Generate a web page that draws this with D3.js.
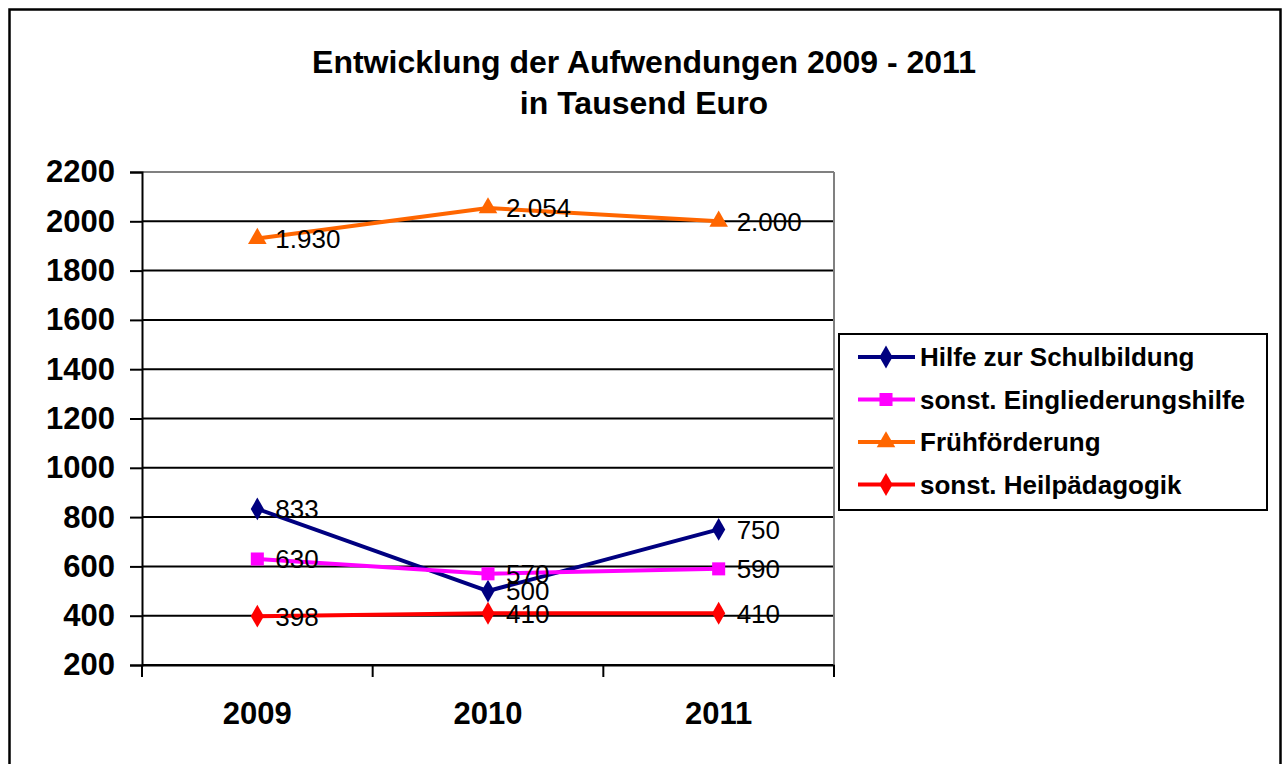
<!DOCTYPE html>
<html>
<head>
<meta charset="utf-8">
<script src="https://cdn.jsdelivr.net/npm/d3@7"></script>
<style>
  body { margin: 0; background: #fff; }
  svg { display: block; font-family: "Liberation Sans", Arial, sans-serif; }
</style>
</head>
<body>
<div id="container"></div>
<script>
// Chart data
const years = ['2009', '2010', '2011'];
const seriesNames = ['Hilfe zur Schulbildung', 'sonst. Eingliederungshilfe', 'Frühförderung', 'sonst. Heilpädagogik'];
const hilfeSchul = [833, 500, 750];
const eingliederung = [630, 570, 590];
const fruehfoerderung = [1930, 2054, 2000];
const heilpaed = [398, 410, 410];
const yTicks = [200, 400, 600, 800, 1000, 1200, 1400, 1600, 1800, 2000, 2200];

const seriesValues = [hilfeSchul, eingliederung, fruehfoerderung, heilpaed];
const colors = ['#000080', '#ff00ff', '#ff6600', '#ff0000'];
const symbols = [d3.symbolDiamond, d3.symbolSquare, d3.symbolTriangle, d3.symbolDiamond];
const symSizes = [150, 170, 150, 150];

const W = 1284, H = 764;
const svg = d3.select('#container').append('svg')
  .attr('width', W).attr('height', H);

// outer frame
svg.append('rect')
  .attr('x', 9.5).attr('y', 9.5)
  .attr('width', 1271).attr('height', 770)
  .attr('fill', 'none').attr('stroke', '#000').attr('stroke-width', 2.5);

// title
const title = svg.append('text')
  .attr('text-anchor', 'middle')
  .attr('font-weight', 'bold')
  .attr('font-size', 32);
title.append('tspan').attr('x', 644).attr('y', 73).text('Entwicklung der Aufwendungen 2009 - 2011');
title.append('tspan').attr('x', 644).attr('y', 114).text('in Tausend Euro');

// plot area
const pLeft = 142, pRight = 834, pTop = 172, pBottom = 665;

const x = d3.scaleBand().domain(years).range([pLeft, pRight]);
const y = d3.scaleLinear().domain([200, 2200]).range([pBottom, pTop]);

// horizontal gridlines
svg.append('g')
  .selectAll('line')
  .data(yTicks)
  .join('line')
  .attr('x1', pLeft).attr('x2', pRight)
  .attr('y1', d => y(d)).attr('y2', d => y(d))
  .attr('stroke', d => d === 2200 ? '#808080' : '#000')
  .attr('stroke-width', 2);

// right border of plot
svg.append('line')
  .attr('x1', pRight).attr('x2', pRight)
  .attr('y1', pTop).attr('y2', pBottom)
  .attr('stroke', '#808080').attr('stroke-width', 2);

// y axis
const yAxis = svg.append('g')
  .attr('transform', `translate(${pLeft},0)`)
  .call(d3.axisLeft(y).tickValues(yTicks).tickFormat(d3.format('d')).tickSize(12).tickPadding(15));
yAxis.select('.domain').attr('stroke-width', 2);
yAxis.selectAll('.tick line').attr('stroke-width', 2);
yAxis.selectAll('.tick text')
  .attr('font-size', 31).attr('font-weight', 'bold')
  .attr('font-family', '"Liberation Sans", Arial, sans-serif')
  .attr('fill', '#000');

// x axis
const xAxis = svg.append('g')
  .attr('transform', `translate(0,${pBottom})`)
  .call(d3.axisBottom(x).tickSize(0).tickPadding(37));
xAxis.select('.domain').attr('stroke-width', 2);
xAxis.selectAll('.tick text')
  .attr('font-size', 31).attr('font-weight', 'bold')
  .attr('font-family', '"Liberation Sans", Arial, sans-serif')
  .attr('fill', '#000');
// category boundary ticks
const bounds = years.map(d => x(d)).concat([x(years[years.length - 1]) + x.bandwidth()]);
xAxis.selectAll('.bound')
  .data(bounds)
  .join('line')
  .attr('class', 'bound')
  .attr('x1', d => d).attr('x2', d => d)
  .attr('y1', 0).attr('y2', 12)
  .attr('stroke', '#000').attr('stroke-width', 2);

const cx = d => x(d) + x.bandwidth() / 2;

// series lines and markers
const line = d3.line()
  .x((v, i) => cx(years[i]))
  .y(v => y(v));

seriesValues.forEach((vals, s) => {
  const g = svg.append('g');
  g.append('path')
    .datum(vals)
    .attr('d', line)
    .attr('fill', 'none')
    .attr('stroke', colors[s])
    .attr('stroke-width', 4)
    .attr('stroke-linejoin', 'round');
  g.selectAll('path.mk')
    .data(vals)
    .join('path')
    .attr('class', 'mk')
    .attr('d', d3.symbol().type(symbols[s]).size(symSizes[s]))
    .attr('transform', (v, i) => `translate(${cx(years[i])},${y(v)})`)
    .attr('fill', colors[s]);
});

// value labels
const fmt = d3.formatLocale({ decimal: ',', thousands: '.', grouping: [3], currency: ['', '€'] }).format(',d');
seriesValues.forEach((vals) => {
  svg.append('g')
    .selectAll('text')
    .data(vals)
    .join('text')
    .attr('x', (v, i) => cx(years[i]) + 18)
    .attr('y', v => y(v))
    .attr('dy', '0.36em')
    .attr('font-size', 26)
    .attr('fill', '#000')
    .text(v => fmt(v));
});

// legend
const lg = svg.append('g').attr('transform', 'translate(839,334)');
lg.append('rect')
  .attr('width', 428).attr('height', 176)
  .attr('fill', '#fff').attr('stroke', '#000').attr('stroke-width', 2);
const items = lg.selectAll('g.item')
  .data(seriesNames)
  .join('g')
  .attr('class', 'item')
  .attr('transform', (d, i) => `translate(0,${23 + i * 42.5})`);
items.append('line')
  .attr('x1', 19).attr('x2', 76)
  .attr('stroke', (d, i) => colors[i]).attr('stroke-width', 4);
items.append('path')
  .attr('d', (d, i) => d3.symbol().type(symbols[i]).size(symSizes[i])())
  .attr('transform', 'translate(47,0)')
  .attr('fill', (d, i) => colors[i]);
items.append('text')
  .attr('x', 81).attr('dy', '0.36em')
  .attr('font-size', 26).attr('font-weight', 'bold')
  .text(d => d);
</script>
</body>
</html>
